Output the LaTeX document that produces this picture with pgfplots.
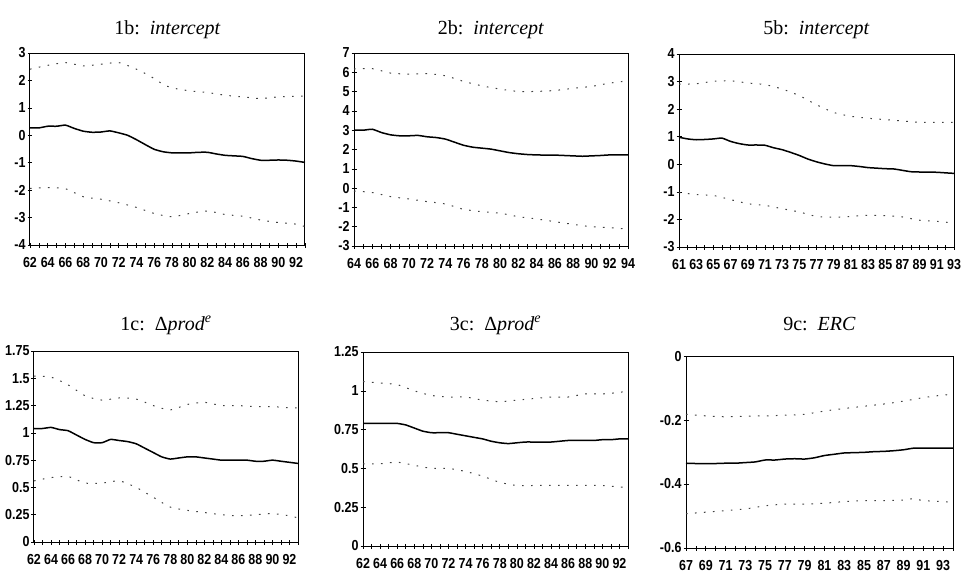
\documentclass[border=0pt]{standalone}
\usepackage{pgfplots}
\pgfplotsset{compat=1.18}
\usepackage{fontspec}
\setmainfont{Liberation Serif}
\newfontfamily\tickfont[FakeStretch=0.86]{Liberation Sans Bold}
\newcommand\tkf{\tickfont\fontsize{14.5}{15}\selectfont}
\pgfplotsset{
  panel/.style={
    scale only axis,
    anchor=south west,
    axis line style={black, line width=1pt},
    tick align=center,
    xtick pos=bottom, ytick pos=left,
    major tick length=5pt, minor tick length=5pt,
    every tick/.style={black, line width=0.6pt},
    /pgf/number format/assume math mode=true,
    /pgf/number format/1000 sep={},
    xticklabel style={font=\tkf, yshift=-6pt},
    yticklabel style={font=\tkf, xshift=1.5pt},
    title style={at={(axis description cs:0.5,1)}, anchor=base, font=\fontsize{20}{22}\selectfont},
    clip=false,
  },
  est/.style={black, line width=1.5pt, smooth, tension=0.3},
  band/.style={black!75, line width=1pt, dash pattern=on 1.6pt off 7.4pt, smooth, tension=0.4},
}
\begin{document}
\begin{tikzpicture}
\useasboundingbox (0,0) rectangle (962pt,-576pt);
% ---------- 1b ----------
\begin{axis}[panel, at={(30pt,-245pt)}, width=275pt, height=192pt,
  xmin=62, xmax=93, ymin=-4, ymax=3, ytick={-4,-3,...,3},
  xtick={62,64,...,92}, minor xtick={62,...,93},
  title style={yshift=13pt},
  title={1b:\ \ \textit{intercept}}]
\addplot[est] coordinates {(62,0.27)(63,0.27)(64,0.33)(65,0.33)(66,0.37)(67,0.25)(68,0.15)(69,0.11)(70,0.12)(71,0.16)(72,0.09)(73,0.0)(74,-0.16)(75,-0.34)(76,-0.51)(77,-0.60)(78,-0.64)(79,-0.64)(80,-0.64)(81,-0.62)(82,-0.62)(83,-0.68)(84,-0.73)(85,-0.75)(86,-0.77)(87,-0.85)(88,-0.91)(89,-0.91)(90,-0.90)(91,-0.91)(92,-0.94)(93,-0.99)};
\addplot[band] coordinates {(62,2.41)(64,2.55)(66,2.65)(68,2.53)(70,2.59)(72,2.65)(74,2.41)(75,2.25)(76,2.07)(77,1.86)(78,1.73)(80,1.62)(82,1.56)(84,1.46)(86,1.40)(88,1.34)(90,1.40)(93,1.43)};
\addplot[band] coordinates {(62,-1.94)(64,-1.91)(66,-1.95)(68,-2.24)(70,-2.33)(72,-2.46)(74,-2.63)(76,-2.85)(78,-2.97)(80,-2.85)(82,-2.76)(84,-2.89)(86,-2.95)(88,-3.09)(90,-3.18)(92,-3.24)(93,-3.33)};
\end{axis}
% ---------- 2b ----------
\begin{axis}[panel, at={(354pt,-246pt)}, width=274pt, height=193pt,
  xmin=64, xmax=94, ymin=-3, ymax=7, ytick={-3,-2,...,7},
  xtick={64,66,...,94}, minor xtick={64,...,94},
  title style={yshift=13pt},
  title={2b:\ \ \textit{intercept}}]
\addplot[est] coordinates {(64,3.0)(65,3.0)(66,3.05)(67,2.88)(68,2.76)(69,2.71)(70,2.71)(71,2.73)(72,2.66)(73,2.62)(74,2.54)(75,2.38)(76,2.22)(77,2.12)(78,2.07)(79,2.02)(80,1.93)(81,1.84)(82,1.78)(83,1.74)(84,1.72)(85,1.71)(86,1.71)(87,1.69)(88,1.67)(89,1.65)(90,1.67)(91,1.69)(92,1.72)(93,1.72)(94,1.72)};
\addplot[band] coordinates {(64,6.17)(66,6.19)(68,5.96)(70,5.91)(72,5.93)(74,5.82)(76,5.53)(78,5.30)(80,5.13)(82,5.01)(84,5.01)(86,5.06)(88,5.17)(90,5.27)(92,5.44)(94,5.56)};
\addplot[band] coordinates {(64,-0.15)(66,-0.23)(68,-0.44)(70,-0.56)(72,-0.70)(74,-0.82)(76,-1.10)(78,-1.22)(80,-1.30)(82,-1.48)(84,-1.60)(86,-1.74)(88,-1.88)(90,-2.00)(92,-2.05)(94,-2.13)};
\end{axis}
% ---------- 5b ----------
\begin{axis}[panel, at={(679pt,-247pt)}, width=275pt, height=193pt,
  xmin=61, xmax=93, ymin=-3, ymax=4, ytick={-3,-2,...,4},
  xtick={61,63,...,93}, minor xtick={61,...,93},
  title style={yshift=14pt},
  title={5b:\ \ \textit{intercept}}]
\addplot[est] coordinates {(61,0.98)(62,0.92)(63,0.89)(64,0.90)(65,0.92)(66,0.95)(67,0.83)(68,0.75)(69,0.70)(70,0.70)(71,0.69)(72,0.60)(73,0.53)(74,0.43)(75,0.32)(76,0.19)(77,0.09)(78,0.01)(79,-0.05)(80,-0.05)(81,-0.05)(82,-0.08)(83,-0.12)(84,-0.14)(85,-0.16)(86,-0.17)(87,-0.22)(88,-0.27)(89,-0.28)(90,-0.28)(91,-0.29)(92,-0.31)(93,-0.33)};
\addplot[band] coordinates {(61,2.91)(63,2.92)(65,3.01)(67,3.03)(69,2.95)(71,2.89)(73,2.73)(75,2.49)(77,2.16)(79,1.88)(81,1.74)(83,1.67)(85,1.62)(87,1.57)(89,1.52)(91,1.52)(93,1.52)};
\addplot[band] coordinates {(61,-1.02)(63,-1.10)(65,-1.13)(67,-1.28)(69,-1.43)(71,-1.49)(73,-1.61)(75,-1.73)(77,-1.89)(79,-1.92)(81,-1.89)(83,-1.85)(85,-1.86)(87,-1.91)(89,-2.03)(91,-2.07)(93,-2.13)};
\end{axis}
% ---------- 1c ----------
\begin{axis}[panel, at={(34pt,-542pt)}, width=264pt, height=191pt,
  xmin=62, xmax=93, ymin=0, ymax=1.75, ytick={0,0.25,...,1.75},
  xtick={62,64,...,92}, minor xtick={62,...,93},
  title style={yshift=15pt},
  title={1c:\ \ Δ\textit{prod}\textsuperscript{\textit{e}}}]
\addplot[est] coordinates {(62,1.04)(63,1.04)(64,1.05)(65,1.03)(66,1.02)(67,0.98)(68,0.94)(69,0.91)(70,0.91)(71,0.94)(72,0.93)(73,0.92)(74,0.90)(75,0.86)(76,0.82)(77,0.78)(78,0.76)(79,0.77)(80,0.78)(81,0.78)(82,0.77)(83,0.76)(84,0.75)(85,0.75)(86,0.75)(87,0.75)(88,0.74)(89,0.74)(90,0.75)(91,0.74)(92,0.73)(93,0.72)};
\addplot[band] coordinates {(62,1.52)(64,1.51)(66,1.44)(68,1.34)(70,1.30)(72,1.32)(74,1.31)(76,1.25)(78,1.21)(80,1.26)(82,1.28)(84,1.25)(86,1.25)(88,1.24)(90,1.24)(92,1.23)(93,1.23)};
\addplot[band] coordinates {(62,0.56)(64,0.59)(66,0.60)(68,0.54)(70,0.54)(72,0.56)(74,0.50)(76,0.41)(78,0.32)(80,0.29)(82,0.27)(84,0.25)(86,0.24)(88,0.25)(90,0.26)(92,0.24)(93,0.22)};
\end{axis}
% ---------- 3c ----------
\begin{axis}[panel, at={(363pt,-546pt)}, width=265pt, height=194pt,
  xmin=62, xmax=93, ymin=0, ymax=1.25, ytick={0,0.25,...,1.25},
  xtick={62,64,...,92}, minor xtick={62,...,93},
  title style={yshift=16pt},
  title={3c:\ \ Δ\textit{prod}\textsuperscript{\textit{e}}}]
\addplot[est] coordinates {(62,0.79)(63,0.79)(64,0.79)(65,0.79)(66,0.79)(67,0.78)(68,0.76)(69,0.74)(70,0.73)(71,0.73)(72,0.73)(73,0.72)(74,0.71)(75,0.70)(76,0.69)(77,0.675)(78,0.665)(79,0.66)(80,0.665)(81,0.67)(82,0.67)(83,0.67)(84,0.67)(85,0.675)(86,0.68)(87,0.68)(88,0.68)(89,0.68)(90,0.685)(91,0.685)(92,0.69)(93,0.69)};
\addplot[band] coordinates {(62,1.06)(64,1.05)(66,1.04)(68,1.00)(70,0.97)(72,0.96)(74,0.96)(76,0.94)(78,0.93)(80,0.94)(82,0.95)(84,0.96)(86,0.96)(88,0.98)(90,0.98)(92,0.99)(93,1.00)};
\addplot[band] coordinates {(62,0.53)(64,0.53)(66,0.54)(68,0.52)(70,0.50)(72,0.50)(74,0.48)(76,0.45)(78,0.41)(80,0.39)(82,0.39)(84,0.39)(86,0.39)(88,0.39)(90,0.39)(92,0.38)(93,0.38)};
\end{axis}
% ---------- 9c ----------
\begin{axis}[panel, at={(686pt,-548pt)}, width=267pt, height=192pt,
  xmin=67, xmax=94, ymin=-0.6, ymax=0, ytick={-0.6,-0.4,-0.2,0},
  yticklabels={-0.6,-0.4,-0.2,0},
  xtick={67,69,...,93}, minor xtick={67,...,94},
  title style={yshift=20pt},
  title={9c:\ \ \textit{ERC}}]
\addplot[est] coordinates {(67,-0.335)(68,-0.336)(69,-0.336)(70,-0.336)(71,-0.335)(72,-0.335)(73,-0.333)(74,-0.331)(75,-0.325)(76,-0.325)(77,-0.322)(78,-0.321)(79,-0.322)(80,-0.318)(81,-0.311)(82,-0.307)(83,-0.303)(84,-0.302)(85,-0.301)(86,-0.299)(87,-0.298)(88,-0.296)(89,-0.293)(90,-0.288)(91,-0.288)(92,-0.288)(93,-0.288)(94,-0.288)};
\addplot[band] coordinates {(67,-0.182)(69,-0.187)(71,-0.190)(73,-0.188)(75,-0.187)(77,-0.185)(79,-0.182)(81,-0.172)(83,-0.164)(85,-0.157)(87,-0.150)(89,-0.141)(91,-0.130)(93,-0.122)(94,-0.120)};
\addplot[band] coordinates {(67,-0.493)(69,-0.488)(71,-0.483)(73,-0.478)(75,-0.468)(77,-0.463)(79,-0.463)(81,-0.460)(83,-0.455)(85,-0.452)(87,-0.452)(89,-0.450)(90,-0.446)(91,-0.452)(93,-0.455)(94,-0.458)};
\end{axis}
\end{tikzpicture}
\end{document}
